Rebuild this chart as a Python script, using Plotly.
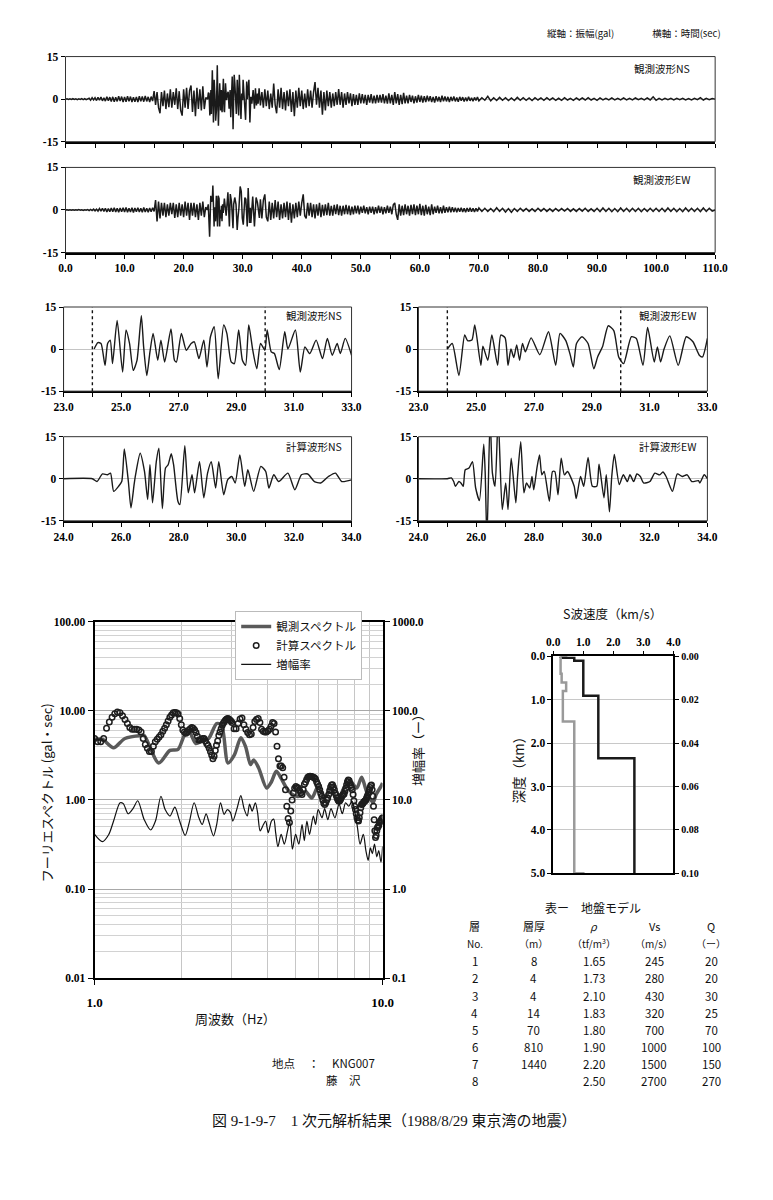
import numpy as np
import plotly.graph_objects as go

# ======================= DATA =======================
# --- observed full waveforms (gal); segment A: 0-23.75 s, step 0.25 s
seg_a_start, seg_a_step = 0.0, 0.25
ns_full_a = [0, 0.1, -0.1, 0.1, -0.1, 0.15, -0.1, 0.1, -0.15, 0.1, -0.1, 0.2, -0.15, 0.2, -0.2, 0.2,
             0.3, -0.4, 0.5, -0.3, 0.5, -0.5, 0.6, -0.4, 0.7, -0.6, 0.5, -0.7, 0.8, -0.6, 0.7, -0.8,
             0.8, -0.9, 0.7, -0.8, 1.0, -0.7, 0.9, -1.0, 0.8, -0.9, 1.0, -0.8, 0.9, -1.0, 0.7, -0.9,
             0.8, -1.0, 1.0, -0.8, 0.9, -0.9, 1.1, -0.8, 0.8, -1.0, 0.9, -0.7, 2.8, -2.0, 2.5, -3.0,
             -5.0, 2.5, -2.5, 3.0, -3.5, 2.0, -2.8, 3.5, -3.0, 2.5, -2.0, 3.8, -3.5, 2.8, -4.0, -5.8,
             3.5, -3.0, 4.0, -3.5, 3.0, 4.8, -4.5, 3.0, -6.0, 4.0, -3.5, 3.5, -4.0, 4.5, -3.5, 0.5]
ew_full_a = [0, 0.1, -0.1, 0.1, -0.1, 0.1, -0.1, 0.1, -0.1, 0.15, -0.1, 0.1, -0.15, 0.1, -0.1, 0.15,
             -0.2, 0.2, -0.2, 0.3, -0.3, 0.3, -0.4, 0.5, -0.4, 0.6, -0.5, 0.6, -0.7, 0.5, -0.6, 0.7,
             -0.6, 0.8, -0.7, 0.6, -0.8, 0.7, -0.6, 0.8, -0.7, 0.9, -0.8, 0.6, -0.7, 0.8, -0.9, 0.7,
             -0.6, 0.8, -0.7, 0.6, -0.8, 0.9, -0.7, 0.6, -0.8, 0.7, -0.6, 0.8, -0.5, 3.5, -4.0, 3.0,
             -3.0, 2.5, -2.0, 2.5, -2.5, 2.0, -2.0, 2.5, -1.5, 2.5, -2.8, 2.0, -2.5, 2.5, -2.0, 2.0,
             -2.5, 3.0, -2.0, 2.5, -3.5, 2.5, -2.0, 2.5, -2.5, 2.0, -3.5, 2.5, -2.0, 3.0, -2.5, 1.0]

# --- segment B: 33.25-70.0 s, step 0.25 s
seg_b_start, seg_b_step = 33.25, 0.25
ns_full_b = [2.5, -3.0, 3.5, -2.5, 3.0, -3.5, 2.0, -3.0, 5.5, -2.0, -5.0, 3.5, -3.0, 4.0, -3.5, 2.5,
             -4.0, 3.0, -2.5, 3.5, -4.5, 2.5, -6.0, 3.0, -3.0, 4.0, -2.5, 3.0, -3.5, 2.0, -3.0, 3.5,
             -2.5, 3.0, -3.0, 2.5, 6.0, -2.0, 4.0, -3.0, 3.0, -5.5, 2.5, -4.0, 3.0, -2.5, 2.5, -3.0,
             2.0, -2.5, 2.5, -2.0, 3.5, -2.0, 2.5, -3.0, 2.0, -2.0, 2.5, -1.5, 2.0, -2.5, 1.8, -2.0,
             1.5, -2.0, 2.0, -1.5, 1.8, -1.5, 1.5, -2.0, 1.5, -1.2, 1.8, -1.5, 1.2, -1.5, 1.5, -1.2,
             1.5, -1.2, 1.8, -1.5, 1.2, -1.6, 2.0, -1.5, 1.5, -2.0, 2.5, -1.5, 1.8, -2.0, 1.5, -1.8,
             2.2, -1.5, 1.2, -1.5, 1.5, -1.0, 1.2, -1.5, 1.0, -1.2, 1.5, -1.0, 1.2, -1.2, 1.0, -1.0,
             1.2, -0.8, 1.0, -1.0, 0.8, -1.2, 1.0, -0.8, 0.8, -1.0, 1.2, -0.8, 0.9, -0.8, 0.8, -1.0,
             0.8, -0.7, 0.9, -0.8, 0.6, -0.9, 0.8, -0.6, 0.7, -0.8, 0.6, -0.7, 0.8, -0.6, 0.5, -0.7,
             0.6, -0.5, 0.7, -0.6]
ew_full_b = [-3.0, 3.5, 5.5, -2.5, -4.0, 3.0, -3.5, 2.5, -3.0, 3.5, -2.5, 3.0, -3.5, 2.0, -3.0, 2.5,
             -2.5, 3.0, -3.5, 2.5, -4.5, 2.0, -3.0, 2.5, -2.5, 3.0, -2.0, 2.5, 5.5, -2.0, -3.0, 2.5,
             -2.0, 2.5, -2.5, 2.0, -3.0, 2.0, -2.0, 2.5, -2.5, 1.8, -2.0, 2.0, -1.8, 2.5, -2.0, 1.5,
             -2.0, 1.8, -1.5, 2.0, -1.8, 1.5, -2.0, 1.5, -1.5, 1.8, -1.5, 1.5, -1.8, 1.2, -1.5, 1.5,
             -1.2, 1.5, -1.5, 1.2, -1.0, 1.5, -1.2, 1.0, -1.5, 1.2, -1.0, 1.2, -1.5, 1.0, -1.2, 1.5,
             -1.0, 1.2, -1.5, 1.0, -1.2, 1.5, -1.0, 1.2, -1.5, 1.8, 2.5, -1.5, -3.5, 2.0, -2.0, 1.5,
             -1.8, 2.0, -1.5, 1.5, -2.0, 1.8, -1.5, 2.0, -1.8, 1.5, -1.5, 2.2, -1.8, 1.5, -2.0, 1.8,
             -1.5, 1.2, -1.8, 2.0, -1.5, 1.2, -1.0, 1.5, -1.2, 1.0, -1.2, 1.5, -1.0, 1.0, -0.8, 1.2,
             -0.8, 1.0, -0.7, 0.8, -0.8, 0.7, -0.6, 0.8, -0.7, 0.6, -0.8, 0.7, -0.6, 0.8, -0.6, 0.6,
             -0.7, 0.6, -0.5, 0.7]

# --- segment C: 70.5-110.0 s, step 0.5 s
seg_c_start, seg_c_step = 70.5, 0.5
ns_full_c = [0.5, -0.4, 1.0, -0.6, 0.5, -0.5, 0.6, -0.4, 0.5, -0.5,
             0.4, -0.5, 0.6, -0.4, 0.5, -0.4, 0.4, -0.5, 0.5, -0.3,
             0.4, -0.4, 0.5, -0.3, 0.4, -0.4, 0.3, -0.4, 0.5, -0.3,
             0.3, -0.4, 0.4, -0.3, 0.4, -0.3, 0.5, -0.3, 0.3, -0.4,
             0.4, -0.3, 0.3, -0.3, 0.4, -0.3, 0.3, -0.3, 0.4, -0.3,
             0.3, -0.3, 0.4, -0.2, 0.3, -0.3, 0.4, -0.3, 0.8, -0.4,
             0.3, -0.3, 0.3, -0.2, 0.3, -0.3, 0.3, -0.2, 0.3, -0.3,
             0.2, -0.3, 0.3, -0.2, 0.5, -0.3, 0.3, -0.2, 0.2, 0.0]
ew_full_c = [-0.5, 0.6, -0.5, 0.5, -0.6, 0.8, -0.5, 0.6, -0.7, 0.5,
             -0.8, 0.5, -0.5, 0.6, -0.4, 0.5, -0.5, 0.4, -0.5, 0.6,
             -0.4, 0.5, -0.5, 0.4, -0.5, 0.5, -0.4, 0.5, -0.4, 0.5,
             -0.5, 0.4, -0.5, 0.5, -0.4, 0.6, -0.5, 0.4, -0.5, 0.6,
             -0.6, 0.7, -0.5, 0.6, -0.6, 0.5, -0.6, 0.7, -0.5, 0.6,
             -0.6, 0.6, -0.5, 0.6, -0.6, 0.5, -0.5, 0.6, -0.5, 0.6,
             -0.5, 0.6, -0.6, 0.7, -0.5, 0.6, -0.6, 0.5, -0.6, 0.7,
             -0.5, 0.6, -0.5, 0.6, -0.6, 0.7, -0.5, 0.6, -0.4, 0.0]

# --- observed detail window (24-33 s), turning points
ns_obs_t = [24.06, 24.19, 24.3, 24.44, 24.53, 24.62, 24.7, 24.86, 25.05, 25.17, 25.29, 25.42, 25.55,
            25.7, 25.78, 25.89, 26.0, 26.11, 26.27, 26.38, 26.51, 26.73, 26.85, 26.92, 27.09, 27.26,
            27.43, 27.54, 27.7, 27.87, 27.98, 28.1, 28.23, 28.37, 28.56, 28.67, 28.82, 28.93, 29.08,
            29.21, 29.32, 29.43, 29.57, 29.71, 29.84, 29.99, 30.07, 30.21, 30.32, 30.49, 30.68, 30.79,
            31.05, 31.22, 31.38, 31.55, 31.77, 31.99, 32.16, 32.33, 32.5, 32.61, 32.78, 33.0]
ns_obs_v = [0, 2.3, 2, -5.8, 2, 3.2, -5.2, 10.2, -8.2, 6.8, 2, -7.6, -4, 11.9, 0.8, -9.4, -1, 5.6,
            -4, 3.2, -4.6, 7.2, -4, -4.6, 5.6, -0.4, 2, 2.6, -3.4, 3.2, -6.4, 4.4, 8, -10.6, 8.6,
            5.6, -4.6, -5.2, 6.8, -4, -5.8, 8.6, -0.4, -7, 2, -0.4, 6.8, -1, -1.6, -7.3, 6.2, 0,
            6.8, -8.2, 0.8, -1.6, 3.2, -3.4, 3.8, -2.2, 2, -1.6, 3.8, -2.2]
ew_obs_t = [24.0, 24.17, 24.4, 24.6, 24.7, 24.85, 24.95, 25.16, 25.23, 25.4, 25.54, 25.74, 25.85,
            26.0, 26.1, 26.2, 26.3, 26.4, 26.5, 26.6, 26.7, 26.9, 27.2, 27.5, 27.75, 27.9, 28.1,
            28.25, 28.36, 28.47, 28.66, 28.87, 29.07, 29.2, 29.37, 29.57, 29.76, 29.93, 30.1, 30.37,
            30.54, 30.77, 30.93, 31.16, 31.27, 31.38, 31.5, 31.7, 31.99, 32.27, 32.5, 32.72, 32.83, 33.0]
ew_obs_v = [0, 2, -9.4, 5, 3, 3.2, 8.6, -5.8, 1, -4, 5, -5.8, 5, 4, -5.8, 0, -3, 1.5, -4, 2, -1, 4,
            -2, 6.2, -5.8, 5.6, 3, -2, -6.4, 2, 4.4, 2, -7, -2.8, 0.8, 8.3, 6.6, -2.8, -5.2, 4.4,
            3.8, -5.8, 7.7, -4.6, 0.8, -4.6, 0, 4.7, -5.8, 4.4, 2.6, -2.2, -2.8, 3.8]
obs_window_s = [24.0, 30.0]

# --- computed waveforms (24-34 s), turning points
ns_calc_t = [24.0, 25.0, 25.16, 25.35, 25.52, 25.63, 25.74, 25.91, 26.02, 26.11, 26.25, 26.34, 26.45,
             26.5, 26.66, 26.81, 26.92, 27.0, 27.09, 27.22, 27.31, 27.43, 27.54, 27.63, 27.74, 27.82,
             27.97, 28.04, 28.21, 28.33, 28.46, 28.55, 28.72, 28.87, 29.0, 29.13, 29.28, 29.39, 29.56,
             29.7, 29.84, 29.96, 30.12, 30.29, 30.4, 30.6, 30.85, 31.02, 31.13, 31.3, 31.47, 31.79,
             32.03, 32.26, 32.48, 32.71, 32.93, 33.2, 33.44, 33.66, 34.0]
ns_calc_v = [0, 0, -1, 1.7, 1.4, 2, -4.5, -2.7, -1, 10.6, -1, -10.4, -2, 1.4, 9.1, 2.6, -7.4, 5, -8.6,
             6.1, 10.9, -10.6, 3.8, 5, 8.9, 5, -8, -9.2, 11.8, -5, 1.4, -5, 6.1, -6.8, 2, 6.1, -3.3,
             6.1, -5.7, -0.3, 0.8, -1.5, 8.5, -2.7, 3.2, -4.5, 4.4, 2.6, -3.3, 1.4, -1, 2, -3.9, 1.4,
             1.7, -1, -1.5, 0.8, 2, -1, -0.4]
ew_calc_t = [24.0, 25.0, 25.14, 25.22, 25.28, 25.4, 25.47, 25.55, 25.62, 25.75, 25.87, 25.98, 26.11,
             26.26, 26.31, 26.37, 26.48, 26.56, 26.65, 26.76, 26.9, 27.02, 27.1, 27.21, 27.37, 27.43,
             27.54, 27.65, 27.74, 27.85, 27.93, 27.99, 28.1, 28.19, 28.27, 28.35, 28.53, 28.64, 28.72,
             28.83, 28.94, 29.05, 29.16, 29.39, 29.46, 29.61, 29.72, 29.87, 30.02, 30.17, 30.25, 30.42,
             30.5, 30.61, 30.69, 30.78, 30.95, 31.09, 31.23, 31.32, 31.45, 31.56, 31.68, 31.79, 32.01,
             32.18, 32.35, 32.46, 32.57, 32.79, 32.96, 33.13, 33.3, 33.46, 33.69, 33.74, 33.89, 34.0]
ew_calc_v = [0, 0, 0.3, -1, -2.7, -1, -1.5, -2.7, 3.2, 3.8, 6.1, -3.3, -7.8, 12.3, 2, -22, 22, 2,
             -2.7, 22, -11, -1.5, -11, 7.3, -8.6, 0.8, 13.2, -5, -1.5, -3.3, 0.8, -3.9, 3.8, 8.5, 1.4,
             2.6, -8, 2.6, 2.6, -5.7, 7.3, 1.4, 2.6, -2.7, -7.1, 0.8, -2.7, 7.6, -2.7, -2.7, 5.2,
             -6.8, 1.4, -11.8, 0.8, 8.7, -2.1, 1.4, -1, 1.4, -1, 1.7, 0.8, -1.5, -1, 2, 1.4, 2.4, 0.8,
             -4.5, 1.7, 0.8, 1.4, -1, -0.7, -1.5, 1.4, 0]

# --- Fourier spectra
obs_spec_f = [1.0, 1.064, 1.164, 1.274, 1.449, 1.487, 1.67, 1.827, 1.949, 2.051, 2.132, 2.245, 2.364,
              2.489, 2.654, 2.759, 2.905, 3.058, 3.22, 3.346, 3.478, 3.569, 3.71, 3.957, 4.113, 4.275,
              4.443, 4.617, 4.862, 5.12, 5.39, 5.675, 5.975, 6.291, 6.622, 6.972, 7.341, 7.73, 8.137,
              8.458, 8.793, 9.257, 9.498, 9.872, 10.0]
obs_spec_v = [4.8, 4.8, 3.85, 4.9, 5.3, 5.3, 2.6, 3.6, 3.7, 5.3, 5.8, 4.3, 4.6, 4.9, 7.2, 6.9, 2.6,
              3.2, 5.0, 3.95, 2.5, 2.8, 2.3, 1.36, 1.6, 2.1, 1.75, 1.4, 1.15, 1.1, 1.25, 1.05, 1.42,
              1.05, 1.36, 0.97, 1.36, 1.61, 1.36, 1.8, 1.25, 0.93, 1.15, 1.42, 1.55]
# computed spectrum sampled at 0.025 Hz (1-3 Hz) and 0.05 Hz (3.05-10 Hz)
calc_lo_start, calc_lo_step = 1.0, 0.025
calc_spec_lo = [4.9,
                4.5, 4.5, 4.9, 6.4, 7.5, 8.5, 9.3, 9.7, 9.5, 8.8,
                8.0, 7.2, 6.5, 6.2, 6.2, 6.2, 6.1, 5.8, 4.9, 4.2,
                3.8, 3.5, 3.5, 4.0, 4.5, 4.8, 5.1, 5.4, 5.9, 6.4,
                7.0, 7.7, 8.5, 9.0, 9.5, 9.6, 9.5, 9.2, 8.2, 7.0,
                6.1, 5.8, 5.6, 5.8, 6.1, 6.3, 6.5, 6.4, 6.1, 5.7,
                5.2, 4.7, 4.7, 4.8, 4.9, 4.9, 4.6, 4.3, 4.1, 3.8,
                3.5, 3.2, 2.9, 3.1, 3.6, 4.1, 4.6, 5.3, 5.8, 6.3,
                6.9, 7.3, 7.6, 7.9, 8.1, 8.2, 8.1, 7.9, 7.7, 7.4]
calc_hi_start, calc_hi_step = 3.05, 0.05
calc_spec_hi = [6.3, 6.3, 7.2, 8.1, 8.3, 7.0, 6.2, 5.7, 5.4, 5.5,
                6.5, 7.6, 8.0, 8.2, 7.4, 6.2, 5.9, 5.8, 5.8, 6.0,
                6.2, 6.7, 7.4, 7.2, 5.8, 4.0, 2.9, 2.4, 2.4, 2.3,
                1.8, 1.3, 0.85, 0.62, 0.56, 0.75, 1.0, 1.2, 1.35, 1.42,
                1.38, 1.36, 1.28, 1.2, 1.15, 1.3, 1.5, 1.58, 1.7, 1.8,
                1.83, 1.85, 1.83, 1.82, 1.8, 1.77, 1.72, 1.6, 1.5, 1.42,
                1.3, 1.18, 1.1, 1.0, 0.92, 0.89, 0.93, 1.0, 1.05, 1.15,
                1.28, 1.4, 1.47, 1.48, 1.4, 1.3, 1.2, 1.13, 1.05, 1.0,
                0.97, 0.98, 1.02, 1.07, 1.12, 1.15, 1.17, 1.25, 1.35, 1.48,
                1.6, 1.68, 1.65, 1.55, 1.45, 1.38, 1.3, 1.15, 0.98, 0.85,
                0.78, 0.7, 0.63, 0.59, 0.58, 0.63, 0.72, 0.82, 0.89, 0.9,
                0.92, 0.95, 0.97, 0.98, 1.0, 1.05, 1.1, 1.15, 1.22, 1.3,
                1.38, 1.45, 1.47, 1.3, 1.1, 0.85, 0.6, 0.45, 0.38, 0.4,
                0.45, 0.49, 0.5, 0.52, 0.55, 0.57, 0.58, 0.6, 0.62, 0.63]
amp_f = [1.0, 1.064, 1.12, 1.164, 1.226, 1.258, 1.307, 1.359, 1.412, 1.487, 1.565, 1.627, 1.70,
         1.758, 1.827, 1.899, 1.974, 2.063, 2.132, 2.216, 2.303, 2.364, 2.438, 2.489, 2.587, 2.654,
         2.737, 2.817, 2.89, 2.965, 3.019, 3.122, 3.22, 3.304, 3.39, 3.452, 3.524, 3.616, 3.681,
         3.758, 3.857, 3.926, 4.008, 4.113, 4.188, 4.253, 4.33, 4.443, 4.559, 4.677, 4.763, 4.862,
         4.989, 5.12, 5.253, 5.349, 5.46, 5.574, 5.749, 5.853, 5.975, 6.162, 6.291, 6.455, 6.622,
         6.832, 7.063, 7.248, 7.438, 7.632, 7.831, 8.034, 8.182, 8.352, 8.573, 8.751, 8.91, 9.072,
         9.212, 9.377, 9.548, 9.696, 9.872, 10.0]
amp_v = [4.1, 3.4, 4.1, 5.8, 9.3, 9.1, 7.0, 8.0, 9.8, 6.0, 4.6, 5.8, 11.0, 7.8, 6.6, 8.3, 5.8, 4.0,
         5.6, 9.3, 6.3, 5.3, 7.0, 5.8, 3.95, 5.3, 9.3, 6.9, 7.8, 7.2, 5.8, 8.0, 11.2, 8.0, 6.6, 9.0,
         7.5, 9.3, 7.2, 4.5, 5.3, 5.8, 4.3, 5.8, 6.1, 4.3, 3.0, 4.1, 3.2, 4.5, 5.8, 2.8, 4.1, 3.2,
         5.3, 3.5, 5.8, 4.1, 6.6, 5.3, 7.8, 6.3, 8.0, 6.0, 8.0, 6.3, 9.0, 7.0, 9.3, 8.5, 9.7, 7.0,
         4.9, 3.2, 4.1, 2.7, 2.1, 2.9, 2.5, 3.2, 2.3, 2.7, 2.0, 3.0]

# --- ground model table
layer_no = [1, 2, 3, 4, 5, 6, 7, 8]
thick_m = [8, 4, 4, 14, 70, 810, 1440, None]
rho_tf = [1.65, 1.73, 2.10, 1.83, 1.80, 1.90, 2.20, 2.50]
vs_ms = [245, 280, 430, 320, 700, 1000, 1500, 2700]
q_val = [20, 20, 30, 25, 70, 100, 150, 270]
depth_max_km = 5.0
depth_max_shallow_km = 0.1

# ======================= FIGURE =======================
# the page body keeps its default 8 px margin: the figure is sized to fit inside the
# 773x1200 window together with that margin, and laid out in page pixels
OFF = 8
W, H = 773 - 2 * OFF, 1200 - 2 * OFF
def px(x): return (x - OFF) / W
def py(y): return 1 - (y - OFF) / H

JP = "Noto Sans CJK JP"
TF = dict(family="Liberation Serif", size=11.5, color="black", weight="bold")

def seg_t(start, step, n):
    return list(start + step * np.arange(n))

ns_t_full = seg_t(seg_a_start, seg_a_step, len(ns_full_a)) + ns_obs_t + \
    seg_t(seg_b_start, seg_b_step, len(ns_full_b)) + seg_t(seg_c_start, seg_c_step, len(ns_full_c))
ns_v_full = ns_full_a + ns_obs_v + ns_full_b + ns_full_c
ew_t_full = seg_t(seg_a_start, seg_a_step, len(ew_full_a)) + ew_obs_t + \
    seg_t(seg_b_start, seg_b_step, len(ew_full_b)) + seg_t(seg_c_start, seg_c_step, len(ew_full_c))
ew_v_full = ew_full_a + ew_obs_v + ew_full_b + ew_full_c

fig = go.Figure()
WC = "#1a1a1a"
def wave(x, y, n, w, smooth):
    line = dict(color=WC, width=w)
    if smooth:
        line.update(shape="spline", smoothing=0.6)
    fig.add_trace(go.Scatter(x=x, y=y, mode="lines", line=line,
                             xaxis=f"x{n}", yaxis=f"y{n}", showlegend=False, hoverinfo="skip"))

wave(ns_t_full, ns_v_full, "", 1.5, False)
wave(ew_t_full, ew_v_full, 2, 1.5, False)
wave(ns_obs_t, ns_obs_v, 3, 1.4, True)
wave(ew_obs_t, ew_obs_v, 4, 1.4, True)
wave(ns_calc_t, ns_calc_v, 5, 1.4, True)
wave(ew_calc_t, ew_calc_v, 6, 1.4, True)

# spectra
calc_f = seg_t(calc_lo_start, calc_lo_step, len(calc_spec_lo)) + seg_t(calc_hi_start, calc_hi_step, len(calc_spec_hi))
calc_v = calc_spec_lo + calc_spec_hi
fig.add_trace(go.Scatter(x=obs_spec_f, y=obs_spec_v, mode="lines", name="観測スペクトル",
                         line=dict(color="#5a5a5a", width=3.5, shape="spline", smoothing=0.8),
                         xaxis="x7", yaxis="y7"))
fig.add_trace(go.Scatter(x=calc_f, y=calc_v, mode="markers", name="計算スペクトル",
                         marker=dict(symbol="circle-open", size=5.5, color="#1e1e1e", line=dict(width=1.5)),
                         xaxis="x7", yaxis="y7"))
fig.add_trace(go.Scatter(x=amp_f, y=amp_v, mode="lines", name="増幅率",
                         line=dict(color="#111", width=1.2, shape="spline", smoothing=0.8),
                         xaxis="x7", yaxis="y8"))

# Vs profile built from the table
prof_v, prof_d = [], []
top = 0.0
for th, v in zip(thick_m, vs_ms):
    bottom = top + th / 1000.0 if th is not None else depth_max_km
    prof_v += [v / 1000.0, v / 1000.0]
    prof_d += [top, bottom]
    top = bottom
fig.add_trace(go.Scatter(x=prof_v, y=prof_d, mode="lines", line=dict(color="#9a9a9a", width=2.5),
                         xaxis="x9", yaxis="y10", showlegend=False, hoverinfo="skip"))
fig.add_trace(go.Scatter(x=prof_v, y=prof_d, mode="lines", line=dict(color="#1a1a1a", width=2.5),
                         xaxis="x9", yaxis="y9", showlegend=False, hoverinfo="skip"))

# ---------------- axes ----------------
def wave_y(dom, anchor):
    return dict(domain=dom, anchor=anchor, range=[-15, 15], tickvals=[-15, 0, 15],
                ticktext=["-15", "0", "15"], ticks="outside", ticklen=4, tickcolor="black",
                showline=True, linecolor="black", linewidth=1, showgrid=False,
                zeroline=True, zerolinecolor="#c4c4c4", zerolinewidth=1, tickfont=TF)

def wave_x(dom, anchor, xr, major, minor_dt, labels):
    return dict(domain=dom, anchor=anchor, range=xr, tickvals=major,
                ticktext=[f"{v:.1f}" for v in major], showticklabels=labels,
                ticks="outside", ticklen=4, tickcolor="black", showline=True, linecolor="black",
                linewidth=2, showgrid=False, zeroline=False, tickfont=TF,
                minor=dict(dtick=minor_dt, tick0=xr[0], ticks="outside", ticklen=4, tickcolor="black"))

full_ticks = list(range(0, 111, 10))
obs_ticks = [23, 25, 27, 29, 31, 33]
calc_ticks = [24, 26, 28, 30, 32, 34]
XL, XR = px(57), px(727)
DL = [px(55), px(352)]
DR = [px(421), px(719)]
y1 = [py(137), py(51)]
y2 = [py(249), py(163)]
y3 = [py(389), py(304)]
y5 = [py(520), py(435)]

lay = dict(
    xaxis=wave_x([XL, XR], "y", [0, 110], full_ticks, 5, False), yaxis=wave_y(y1, "x"),
    xaxis2=wave_x([XL, XR], "y2", [0, 110], full_ticks, 5, True), yaxis2=wave_y(y2, "x2"),
    xaxis3=wave_x(DL, "y3", [23, 33], obs_ticks, 1, True), yaxis3=wave_y(y3, "x3"),
    xaxis4=wave_x(DR, "y4", [23, 33], obs_ticks, 1, True), yaxis4=wave_y(y3, "x4"),
    xaxis5=wave_x(DL, "y5", [24, 34], calc_ticks, 1, True), yaxis5=wave_y(y5, "x5"),
    xaxis6=wave_x(DR, "y6", [24, 34], calc_ticks, 1, True), yaxis6=wave_y(y5, "x6"),
)

dec = [1, 10]
minor_x = [2, 3, 4, 5, 6, 7, 8, 9]
minor_y = [m * 10.0 ** e for e in range(-2, 2) for m in range(2, 10)]
lay["xaxis7"] = dict(domain=[px(87), px(384)], anchor="y7", type="log", range=[0, 1],
                     tickvals=dec, ticktext=["1.0", "10.0"], ticks="outside", ticklen=5,
                     tickcolor="black", showline=True, mirror=True, linecolor="black", linewidth=2,
                     showgrid=False, tickfont=dict(TF, size=13), ticklabelstandoff=6,
                     minor=dict(tickvals=minor_x, showgrid=True, gridcolor="#c6c6c6", gridwidth=1, ticks=""))
lay["yaxis7"] = dict(domain=[py(982), py(622)], anchor="x7", type="log", range=[-2, 2],
                     tickvals=[0.01, 0.1, 1, 10, 100], ticktext=["0.01", "0.10", "1.00", "10.00", "100.00"],
                     ticks="outside", ticklen=5, tickcolor="black", showline=True, linecolor="black",
                     linewidth=2, showgrid=True, gridcolor="#a8a8a8", gridwidth=1, tickfont=TF,
                     minor=dict(tickvals=minor_y, showgrid=True, gridcolor="#d2d2d2", gridwidth=1, ticks=""))
lay["yaxis8"] = dict(overlaying="y7", anchor="x7", side="right", type="log", range=[-1, 3],
                     tickvals=[0.1, 1, 10, 100, 1000], ticktext=["0.1", "1.0", "10.0", "100.0", "1000.0"],
                     ticks="outside", ticklen=5, tickcolor="black", showline=True, linecolor="black",
                     linewidth=2, showgrid=False, tickfont=TF)

lay["xaxis9"] = dict(domain=[px(560), px(684)], anchor="y9", side="top", range=[0, 4],
                     tickvals=[0, 1, 2, 3, 4], ticktext=["0.0", "1.0", "2.0", "3.0", "4.0"],
                     ticks="outside", ticklen=4, tickcolor="black", showline=True, mirror=True,
                     linecolor="black", linewidth=1.5, showgrid=False, zeroline=False, tickfont=TF)
lay["yaxis9"] = dict(domain=[py(876), py(657)], anchor="x9", range=[depth_max_km, 0],
                     tickvals=[0, 1, 2, 3, 4, 5], ticktext=["0.0", "1.0", "2.0", "3.0", "4.0", "5.0"],
                     ticks="outside", ticklen=4, tickcolor="black", showline=True, linecolor="black",
                     linewidth=1.5, showgrid=True, gridcolor="#c8c8c8", zeroline=False, tickfont=TF)
lay["yaxis10"] = dict(overlaying="y9", anchor="x9", side="right", range=[depth_max_shallow_km, 0],
                      tickvals=[0, 0.02, 0.04, 0.06, 0.08, 0.1],
                      ticktext=["0.00", "0.02", "0.04", "0.06", "0.08", "0.10"],
                      ticks="outside", ticklen=4, tickcolor="black", showline=True, linecolor="black",
                      linewidth=1.5, showgrid=False, zeroline=False, tickfont=dict(TF, size=10))

# ---------------- shapes (panel frames, window marks) ----------------
shapes = []
for n in ["", "2", "3", "4", "5", "6"]:
    shapes.append(dict(type="rect", xref=f"x{n} domain", yref=f"y{n} domain", x0=0, x1=1, y0=0, y1=1,
                       line=dict(color="#333", width=1), layer="above"))
for n in ["3", "4"]:
    for t in obs_window_s:
        shapes.append(dict(type="line", xref=f"x{n}", yref=f"y{n} domain", x0=t, x1=t, y0=0, y1=1,
                           line=dict(color="#111", width=1.4, dash="dot")))

# ---------------- annotations ----------------
ann = []
def text(x, y, s, size=11, family=JP, xanchor="center", angle=0, color="#111"):
    ann.append(dict(x=px(x), y=py(y), xref="paper", yref="paper", text=s, showarrow=False,
                    xanchor=xanchor, yanchor="middle", textangle=angle,
                    font=dict(family=family, size=size, color=color)))

text(735, 27, "縦軸：振幅(gal)　　　　横軸：時間(sec)", size=9.5, xanchor="right")
text(703, 63, "観測波形NS", size=10.5, xanchor="right")
text(703, 175, "観測波形EW", size=10.5, xanchor="right")
text(344, 313, "観測波形NS", size=10.5, xanchor="right")
text(709, 313, "観測波形EW", size=10.5, xanchor="right")
text(344, 445, "計算波形NS", size=10.5, xanchor="right")
text(709, 445, "計算波形EW", size=10.5, xanchor="right")

text(37, 795, "フーリエスペクトル (gal・sec)", size=13, angle=-90)
text(420, 748, "増幅率（ー）", size=13, angle=-90)
text(232, 1023, "周波数（Hz）", size=13)

text(621, 614, "S波速度（km/s）", size=12.5)
text(524, 768, "深度（km）", size=13.5, angle=-90)

# table
cols = [479, 540, 602, 664, 723]
text(601, 911, "表ー　地盤モデル", size=12)
heads = ["層", "層厚", "<i>ρ</i>", "Vs", "Q"]
units = ["No.", "（m）", "（tf/m<sup>3</sup>）", "（m/s）", "（ー）"]
for c, h, u in zip(cols, heads, units):
    text(c, 929, h, size=11)
    text(c, 947, u, size=10)
for i in range(len(layer_no)):
    yy = 965 + 17.3 * i
    row = [str(layer_no[i]), "" if thick_m[i] is None else str(thick_m[i]),
           f"{rho_tf[i]:.2f}", str(vs_ms[i]), str(q_val[i])]
    for c, s in zip(cols, row):
        if s:
            text(c, yy, s, size=11.5)

text(268, 1068, "地点", size=11.5, xanchor="left")
text(313, 1068, "：", size=11.5)
text(354, 1068, "KNG007", size=11.5)
text(344, 1085, "藤　沢", size=11.5)

text(396, 1126, "図 9-1-9-7　1 次元解析結果（1988/8/29 東京湾の地震）", size=15,
     family="Liberation Serif, Noto Sans CJK JP")

fig.update_layout(
    width=W, height=H, margin=dict(l=0, r=0, t=0, b=0), autosize=False,
    paper_bgcolor="white", plot_bgcolor="white", shapes=shapes, annotations=ann,
    showlegend=True,
    legend=dict(x=px(232), y=py(611), xanchor="left", yanchor="top", bgcolor="white",
                bordercolor="#bbbbbb", borderwidth=1, font=dict(family=JP, size=11.5, color="#111"),
                tracegroupgap=0, itemwidth=30),
    font=dict(family=JP),
    **lay,
)

fig.write_html("out.html")
